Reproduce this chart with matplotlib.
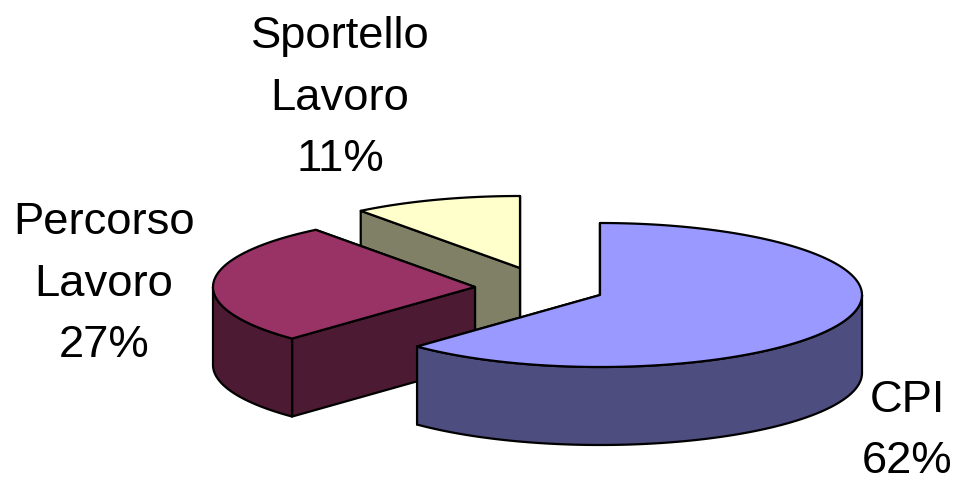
import numpy as np
import matplotlib
matplotlib.use("Agg")
import matplotlib.pyplot as plt
from matplotlib.patches import Polygon

labels = ["CPI\n62%", "Percorso\nLavoro\n27%", "Sportello\nLavoro\n11%"]
values = [62.3, 27.3, 10.4]
top_colors = ["#9999ff", "#993366", "#ffffcc"]
side_colors = ["#4d4d80", "#4d1a33", "#808066"]

# pie centres in pixels (exploded slices), radii and thickness
centers = [(600, 295), (475, 287), (520, 268)]
label_pos = [(907, 431), (104, 284), (340, 98)]
RX = 262
RY = 72
DEPTH = 78

plt.rcParams["font.family"] = ["Liberation Sans", "DejaVu Sans"]

fig = plt.figure(figsize=(9.56, 4.82), dpi=100)
ax = fig.add_axes([0, 0, 1, 1])
ax.set_xlim(0, 956)
ax.set_ylim(482, 0)
ax.axis("off")


def rim(cx, cy, a0, a1):
    t = np.radians(np.linspace(a0, a1, 200))
    return np.column_stack([cx + RX * np.sin(t), cy - RY * np.cos(t)])


edges = np.cumsum([0] + values) * 3.6
order = [2, 1, 0]  # back to front

for i in order:
    cx, cy = centers[i]
    a0, a1 = edges[i], edges[i + 1]
    pts = rim(cx, cy, a0, a1)
    style = dict(ec="black", lw=1.6, joinstyle="round")

    # radial walls
    for p in (pts[-1], pts[0]):
        wall = [(cx, cy), p, (p[0], p[1] + DEPTH), (cx, cy + DEPTH)]
        ax.add_patch(Polygon(wall, fc=side_colors[i], **style))

    # outer wall, front half only
    lo, hi = max(a0, 90), min(a1, 270)
    if lo < hi:
        front = rim(cx, cy, lo, hi)
        low = front[::-1] + [0, DEPTH]
        ax.add_patch(Polygon(np.vstack([front, low]), fc=side_colors[i], **style))

    ax.add_patch(Polygon(np.vstack([[(cx, cy)], pts]), fc=top_colors[i], **style))

for text, (x, y) in zip(labels, label_pos):
    ax.text(x, y, text, ha="center", va="center", fontsize=32.7, color="black",
            linespacing=1.64)

fig.savefig("out.png", dpi=100)
